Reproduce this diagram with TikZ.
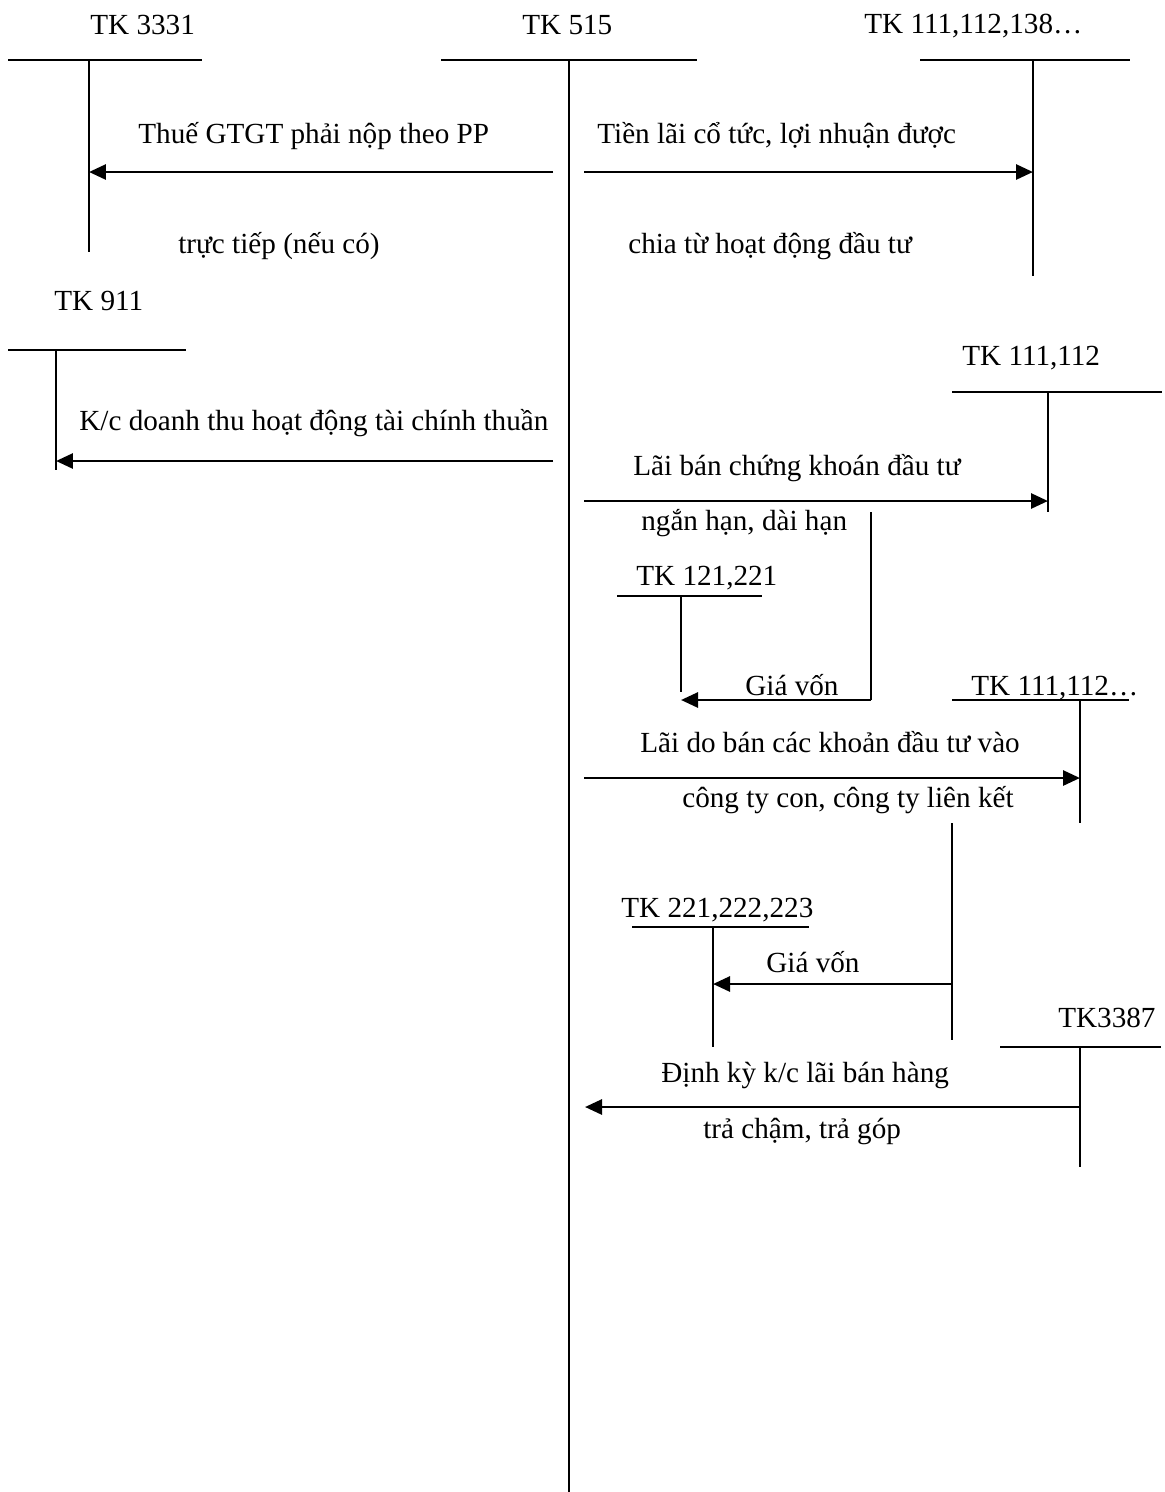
\documentclass[tikz,border=0pt]{standalone}
\usepackage{fontspec}
\setmainfont{Liberation Serif}
\usetikzlibrary{arrows.meta}
\tikzset{
  lbl/.style={inner sep=0pt,anchor=base west,font=\fontsize{16.6}{20}\selectfont},
  tln/.style={line width=1.1pt},
  arr/.style={-{Triangle[length=3.4mm,width=3mm]},line width=1.6pt},
}

\begin{document}
\begin{tikzpicture}[x=0.02cm,y=-0.02cm]
  \useasboundingbox (0,0) rectangle (1164,1492);
  % account heads (T junctions)
  \coordinate (k3331) at (89,60);
  \coordinate (k515) at (569,60);
  \coordinate (k111a) at (1033,60);
  \coordinate (k911) at (56,350);
  \coordinate (k111b) at (1048,392);
  \coordinate (k121) at (681,596);
  \coordinate (k111c) at (1080,700);
  \coordinate (k221) at (713,927);
  \coordinate (k3387) at (1080,1047);
  % T-accounts
  \draw[tln] (8,60) -- (202,60);     \draw[tln] (k3331) -- (89,252);
  \draw[tln] (441,60) -- (697,60);   \draw[line width=1.6pt] (k515) -- (569,1492);
  \draw[tln] (920,60) -- (1130,60);  \draw[tln] (k111a) -- (1033,276);
  \draw[tln] (8,350) -- (186,350);   \draw[tln] (k911) -- (56,470);
  \draw[tln] (952,392) -- (1162,392); \draw[tln] (k111b) -- (1048,512);
  \draw[tln] (617,596) -- (762,596); \draw[tln] (k121) -- (681,692);
  \draw[tln] (952,700) -- (1129,700); \draw[tln] (k111c) -- (1080,823);
  \draw[tln] (632,927) -- (809,927); \draw[tln] (k221) -- (713,1047);
  \draw[tln] (1000,1047) -- (1161,1047); \draw[tln] (k3387) -- (1080,1167);
  % account names
  \node[lbl] (n3331) at (90,34) {TK 3331};
  \node[lbl] (n515) at (522,34) {TK 515};
  \node[lbl] (n111a) at (864,33) {TK 111,112,138…};
  \node[lbl] (n911) at (54,310) {TK 911};
  \node[lbl] (n111b) at (962,365) {TK 111,112};
  \node[lbl] (n121) at (636,585) {TK 121,221};
  \node[lbl] (n111c) at (971,695) {TK 111,112…};
  \node[lbl] (n221) at (621,917) {TK 221,222,223};
  \node[lbl] (n3387) at (1058,1027) {TK3387};
  % arrow ends
  \coordinate (s1) at (553,172);  \coordinate (e1) at (89,172);
  \coordinate (s2) at (584,172);  \coordinate (e2) at (1033,172);
  \coordinate (s3) at (553,461);  \coordinate (e3) at (56,461);
  \coordinate (s4) at (584,501);  \coordinate (e4) at (1048,501);
  \coordinate (s5) at (871,512);  \coordinate (c5) at (871,700); \coordinate (e5) at (681,700);
  \coordinate (s6) at (584,778);  \coordinate (e6) at (1080,778);
  \coordinate (s7) at (952,823);  \coordinate (c7) at (952,984); \coordinate (b7) at (952,1040);
  \coordinate (e7) at (713,984);
  \coordinate (s8) at (1080,1107); \coordinate (e8) at (585,1107);
  % entries
  \draw[arr] (s1) -- (e1);
  \draw[arr] (s2) -- (e2);
  \draw[arr] (s3) -- (e3);
  \draw[arr] (s4) -- (e4);
  \draw[tln] (s5) -- (c5);
  \draw[arr] (c5) -- (e5);
  \draw[arr] (s6) -- (e6);
  \draw[tln] (s7) -- (b7);
  \draw[arr] (c7) -- (e7);
  \draw[arr] (s8) -- (e8);
  % entry texts
  \node[lbl] (t1a) at (138,143) {Thuế GTGT phải nộp theo PP};
  \node[lbl] (t1b) at (178,253) {trực tiếp (nếu có)};
  \node[lbl] (t2a) at (597,143) {Tiền lãi cổ tức, lợi nhuận được};
  \node[lbl] (t2b) at (628,253) {chia từ hoạt động đầu tư};
  \node[lbl] (t3) at (79,430) {K/c doanh thu hoạt động tài chính thuần};
  \node[lbl] (t4a) at (633,475) {Lãi bán chứng khoán đầu tư};
  \node[lbl] (t4b) at (641,530) {ngắn hạn, dài hạn};
  \node[lbl] (t5) at (745,695) {Giá vốn};
  \node[lbl] (t6a) at (640,752) {Lãi do bán các khoản đầu tư vào};
  \node[lbl] (t6b) at (682,807) {công ty con, công ty liên kết};
  \node[lbl] (t7) at (766,972) {Giá vốn};
  \node[lbl] (t8a) at (661,1082) {Định kỳ k/c lãi bán hàng};
  \node[lbl] (t8b) at (703,1138) {trả chậm, trả góp};
\end{tikzpicture}
\end{document}
